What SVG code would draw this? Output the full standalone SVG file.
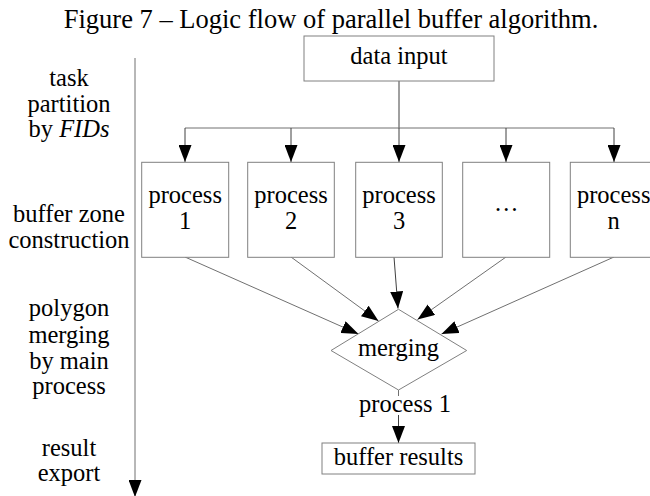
<svg xmlns="http://www.w3.org/2000/svg" width="650" height="496" viewBox="0 0 650 496">
<style>
text{font-family:"Liberation Serif","Times New Roman",serif;font-size:24.5px;fill:#000;text-anchor:middle}
.title{font-size:26.5px}
.box{fill:#fff;stroke:#808080;stroke-width:1}
.ln{fill:none;stroke:#707070;stroke-width:1}
.dk{fill:none;stroke:#404040;stroke-width:1}
</style>
<defs>
<marker id="ah" markerUnits="userSpaceOnUse" markerWidth="17" markerHeight="13" refX="17" refY="6.5" orient="auto" viewBox="0 0 17 13">
<path d="M0,0 L17,6.5 L0,13 z" fill="#000"/>
</marker>
</defs>
<rect width="650" height="496" fill="#fff"/>
<text class="title" x="331" y="28">Figure 7 – Logic flow of parallel buffer algorithm.</text>

<g id="stages">
<line class="ln" x1="135" y1="58" x2="135" y2="497" marker-end="url(#ah)"/>
<text x="69" y="86">task</text>
<text x="69" y="112">partition</text>
<text x="69" y="137">by <tspan font-style="italic">FIDs</tspan></text>
<text x="69" y="222">buffer zone</text>
<text x="69" y="248">construction</text>
<text x="69" y="316">polygon</text>
<text x="69" y="343">merging</text>
<text x="69" y="369">by main</text>
<text x="69" y="394">process</text>
<text x="69" y="456">result</text>
<text x="69" y="481">export</text>
</g>

<g id="connectors">
<line class="dk" x1="399" y1="81" x2="399" y2="128"/>
<line class="ln" x1="185" y1="128" x2="614" y2="128"/>
<line class="dk" x1="185" y1="128" x2="185" y2="162" marker-end="url(#ah)"/>
<line class="dk" x1="291" y1="128" x2="291" y2="162" marker-end="url(#ah)"/>
<line class="dk" x1="399" y1="128" x2="399" y2="162" marker-end="url(#ah)"/>
<line class="dk" x1="506" y1="128" x2="506" y2="162" marker-end="url(#ah)"/>
<line class="dk" x1="614" y1="128" x2="614" y2="162" marker-end="url(#ah)"/>
<line class="ln" x1="185" y1="257" x2="358.5" y2="334" marker-end="url(#ah)"/>
<line class="ln" x1="291" y1="257" x2="378.5" y2="321" marker-end="url(#ah)"/>
<line class="dk" x1="394" y1="257" x2="398" y2="308.5" marker-end="url(#ah)"/>
<line class="ln" x1="506" y1="257" x2="417.5" y2="319.5" marker-end="url(#ah)"/>
<line class="ln" x1="614" y1="257" x2="441.5" y2="334" marker-end="url(#ah)"/>
<line class="ln" x1="398.5" y1="390" x2="398.5" y2="396"/>
<line class="dk" x1="398.5" y1="415" x2="398.5" y2="443" marker-end="url(#ah)"/>
<text x="405" y="412">process 1</text>
</g>

<g id="data-input">
<rect class="box" x="304" y="36" width="190" height="45"/>
<text x="399" y="64">data input</text>
</g>

<g id="process-1">
<rect class="box" x="141.7" y="162.3" width="87" height="95"/>
<text x="185.2" y="203">process</text>
<text x="185.2" y="229">1</text>
</g>
<g id="process-2">
<rect class="box" x="247.7" y="162.3" width="86.6" height="95"/>
<text x="291" y="203">process</text>
<text x="291" y="229">2</text>
</g>
<g id="process-3">
<rect class="box" x="355.7" y="162.3" width="86.6" height="95"/>
<text x="399" y="203">process</text>
<text x="399" y="229">3</text>
</g>
<g id="process-dots">
<rect class="box" x="462.7" y="162.3" width="87" height="95"/>
<text x="506.2" y="211">…</text>
</g>
<g id="process-n">
<rect class="box" x="570.3" y="162.3" width="87" height="95"/>
<text x="613.7" y="203">process</text>
<text x="613.7" y="229">n</text>
</g>

<g id="merging">
<polygon class="box" points="398.5,309.3 466.7,350.5 398.5,390 331,350.5"/>
<text x="398.5" y="356">merging</text>
</g>

<g id="buffer-results">
<rect class="box" x="322" y="443" width="153" height="31"/>
<text x="398.5" y="465">buffer results</text>
</g>
</svg>
